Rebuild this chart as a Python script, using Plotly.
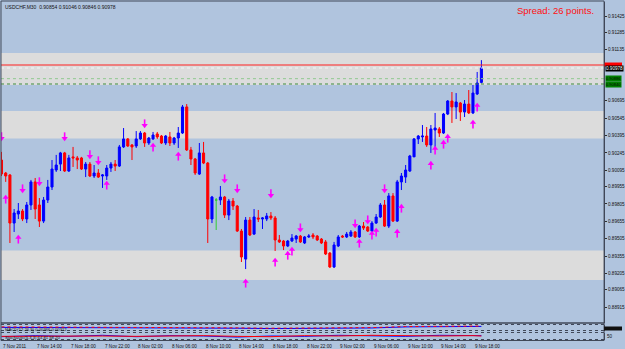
import pandas as pd
import plotly.graph_objects as go

W, H = 625, 349

# ---------------- data ----------------
symbol_title = "USDCHF,M30  0.90854 0.91046 0.90846 0.90978"
spread_text = "Spread: 26 points."
start_time = "2011-11-07 10:00"

opens = [0.90184, 0.90072, 0.90055, 0.89640, 0.89718, 0.89744, 0.89675, 0.89796, 0.89995, 0.89796,
         0.89657, 0.89839, 0.89951, 0.90098, 0.90149, 0.90245, 0.90089, 0.90211, 0.90202, 0.90202,
         0.90106, 0.90149, 0.90046, 0.90072, 0.90046, 0.90046, 0.90115, 0.90149, 0.90132, 0.90297,
         0.90366, 0.90314, 0.90305, 0.90366, 0.90417, 0.90331, 0.90366, 0.90409, 0.90391, 0.90331,
         0.90383, 0.90331, 0.90374, 0.90417, 0.90642, 0.90271, 0.90193, 0.90063, 0.90245, 0.90158,
         0.89675, 0.89839, 0.89839, 0.89865, 0.89709, 0.89830, 0.89787, 0.89571, 0.89329, 0.89666,
         0.89545, 0.89684, 0.89675, 0.89675, 0.89701, 0.89684, 0.89494, 0.89485, 0.89442, 0.89485,
         0.89502, 0.89528, 0.89468, 0.89520, 0.89537, 0.89528, 0.89502, 0.89477, 0.89381, 0.89261,
         0.89442, 0.89528, 0.89520, 0.89528, 0.89563, 0.89520, 0.89614, 0.89606, 0.89571, 0.89640,
         0.89692, 0.89796, 0.89614, 0.89874, 0.89657, 0.89995, 0.90037, 0.90089, 0.90211, 0.90366,
         0.90383, 0.90391, 0.90314, 0.90443, 0.90452, 0.90417, 0.90581, 0.90693, 0.90642, 0.90676,
         0.90598, 0.90667, 0.90590, 0.90754, 0.90854]
highs = [0.90254, 0.90081, 0.90063, 0.89761, 0.89813, 0.89761, 0.89822, 0.90012, 0.90029, 0.89856,
         0.89865, 0.90012, 0.90184, 0.90228, 0.90254, 0.90254, 0.90228, 0.90297, 0.90219, 0.90211,
         0.90167, 0.90167, 0.90141, 0.90106, 0.90063, 0.90141, 0.90167, 0.90184, 0.90314, 0.90460,
         0.90374, 0.90322, 0.90434, 0.90434, 0.90426, 0.90383, 0.90426, 0.90426, 0.90400, 0.90400,
         0.90426, 0.90383, 0.90469, 0.90659, 0.90667, 0.90297, 0.90202, 0.90331, 0.90340, 0.90167,
         0.89874, 0.89856, 0.89960, 0.89874, 0.89848, 0.89856, 0.89796, 0.89589, 0.89692, 0.89692,
         0.89761, 0.89753, 0.89692, 0.89727, 0.89735, 0.89701, 0.89537, 0.89494, 0.89494, 0.89545,
         0.89537, 0.89537, 0.89528, 0.89545, 0.89554, 0.89537, 0.89511, 0.89494, 0.89390, 0.89477,
         0.89537, 0.89537, 0.89563, 0.89580, 0.89571, 0.89623, 0.89649, 0.89614, 0.89657, 0.89718,
         0.89813, 0.89839, 0.89899, 0.89899, 0.90012, 0.90072, 0.90141, 0.90228, 0.90374, 0.90400,
         0.90486, 0.90469, 0.90486, 0.90590, 0.90469, 0.90590, 0.90702, 0.90771, 0.90762, 0.90685,
         0.90702, 0.90788, 0.90832, 0.90944, 0.91046]
lows = [0.90046, 0.89995, 0.89468, 0.89563, 0.89675, 0.89657, 0.89640, 0.89753, 0.89675, 0.89606,
        0.89640, 0.89813, 0.89925, 0.90081, 0.90089, 0.90081, 0.90081, 0.90124, 0.90106, 0.90098,
        0.90037, 0.90037, 0.90029, 0.90029, 0.89943, 0.90012, 0.90081, 0.90089, 0.90124, 0.90288,
        0.90297, 0.90184, 0.90288, 0.90357, 0.90297, 0.90314, 0.90357, 0.90366, 0.90322, 0.90314,
        0.90305, 0.90314, 0.90288, 0.90409, 0.90262, 0.90141, 0.90055, 0.90055, 0.90149, 0.89468,
        0.89640, 0.89580, 0.89796, 0.89684, 0.89666, 0.89753, 0.89563, 0.89304, 0.89243, 0.89528,
        0.89537, 0.89649, 0.89589, 0.89657, 0.89666, 0.89399, 0.89468, 0.89407, 0.89433, 0.89477,
        0.89468, 0.89468, 0.89459, 0.89511, 0.89502, 0.89485, 0.89459, 0.89364, 0.89252, 0.89252,
        0.89433, 0.89511, 0.89511, 0.89520, 0.89511, 0.89511, 0.89580, 0.89563, 0.89563, 0.89632,
        0.89684, 0.89606, 0.89597, 0.89649, 0.89649, 0.89925, 0.89986, 0.90081, 0.90211, 0.90322,
        0.90340, 0.90297, 0.90245, 0.90297, 0.90383, 0.90409, 0.90572, 0.90504, 0.90538, 0.90521,
        0.90555, 0.90581, 0.90581, 0.90745, 0.90846]
closes = [0.90063, 0.90046, 0.89640, 0.89727, 0.89744, 0.89675, 0.89796, 0.89995, 0.89761, 0.89657,
          0.89839, 0.89951, 0.90106, 0.90141, 0.90245, 0.90089, 0.90202, 0.90202, 0.90184, 0.90106,
          0.90149, 0.90046, 0.90072, 0.90037, 0.90055, 0.90115, 0.90149, 0.90132, 0.90297, 0.90366,
          0.90305, 0.90297, 0.90366, 0.90417, 0.90331, 0.90374, 0.90400, 0.90383, 0.90331, 0.90391,
          0.90331, 0.90374, 0.90417, 0.90642, 0.90271, 0.90193, 0.90072, 0.90245, 0.90158, 0.89675,
          0.89865, 0.89839, 0.89865, 0.89709, 0.89830, 0.89787, 0.89571, 0.89347, 0.89666, 0.89537,
          0.89692, 0.89675, 0.89684, 0.89701, 0.89684, 0.89494, 0.89477, 0.89442, 0.89485, 0.89511,
          0.89528, 0.89477, 0.89520, 0.89528, 0.89520, 0.89494, 0.89468, 0.89373, 0.89261, 0.89451,
          0.89520, 0.89520, 0.89545, 0.89563, 0.89520, 0.89614, 0.89597, 0.89571, 0.89640, 0.89692,
          0.89796, 0.89614, 0.89874, 0.89657, 0.89995, 0.90046, 0.90098, 0.90219, 0.90366, 0.90391,
          0.90391, 0.90314, 0.90452, 0.90460, 0.90417, 0.90581, 0.90693, 0.90642, 0.90685, 0.90598,
          0.90667, 0.90590, 0.90762, 0.90849, 0.90978]

# signal arrows: bar index, price
sig_down_bar = [0, 5, 9, 15, 21, 23, 34, 53, 56, 64, 71, 84, 87, 91]
sig_down_px = [0.90383, 0.89934, 0.89995, 0.90383, 0.90228, 0.90176, 0.90495, 0.90020, 0.89934,
               0.89891, 0.89597, 0.89632, 0.89666, 0.89934]
sig_up_bar = [1, 4, 25, 36, 42, 58, 65, 68, 69, 85, 88, 89, 94, 95, 102, 103, 105, 106, 112, 113]
sig_up_px = [0.89848, 0.89503, 0.89969, 0.90297, 0.90219, 0.89123, 0.89304, 0.89364, 0.89399,
             0.89468, 0.89537, 0.89563, 0.89554, 0.89770, 0.90141, 0.90271, 0.90322, 0.90374,
             0.90495, 0.90642]

# zones (price bands)
zone_lo = [0.90831, 0.90370, 0.89149]
zone_hi = [0.91108, 0.90607, 0.89403]

ask_price = 0.91004
bid_price = 0.90978
green_levels = [0.90886, 0.90840]

# right price scale labels
price_ticks = [0.91425, 0.91285, 0.91135, 0.90695, 0.90545, 0.90395, 0.90245, 0.90095,
               0.89955, 0.89805, 0.89655, 0.89505, 0.89355, 0.89205, 0.89065, 0.88915, 0.88775]

# time labels (bar index, text)
time_lbl_bar = [0, 8, 16, 24, 32, 40, 48, 56, 64, 72, 80, 88, 96, 104, 112]
time_lbl_txt = ["7 Nov 2011", "7 Nov 14:00", "7 Nov 18:00", "7 Nov 22:00", "8 Nov 02:00",
                "8 Nov 06:00", "8 Nov 10:00", "8 Nov 14:00", "8 Nov 18:00", "8 Nov 22:00",
                "9 Nov 02:00", "9 Nov 06:00", "9 Nov 10:00", "9 Nov 14:00", "9 Nov 18:00"]

# indicator sub-windows (sampled, normalised 0..1 inside each window)
ind1_title = "MACD(12,26,9) 0.00366 0.00312"
ind2_title = "Stochastic(5,3,3) 64.81 58.20"
ind2_level = "50"
ind_bar = [0, 8, 16, 24, 32, 40, 48, 56, 64, 72, 80, 88, 96, 104, 112, 114]
ind1_blue = [0.52, 0.50, 0.52, 0.52, 0.50, 0.52, 0.50, 0.38, 0.32, 0.33, 0.36, 0.42, 0.60, 0.66, 0.68, 0.68]
ind1_red = [0.60, 0.58, 0.57, 0.59, 0.57, 0.59, 0.57, 0.44, 0.38, 0.38, 0.42, 0.48, 0.66, 0.72, 0.74, 0.74]
ind2_blue = [0.40, 0.55, 0.45, 0.60, 0.40, 0.55, 0.50, 0.35, 0.50, 0.45, 0.60, 0.55, 0.45, 0.60, 0.50, 0.55]
ind2_red = [0.45, 0.50, 0.55, 0.50, 0.45, 0.50, 0.55, 0.45, 0.40, 0.55, 0.50, 0.60, 0.50, 0.50, 0.55, 0.50]

# ---------------- geometry ----------------
X_LEFT, X_RIGHT = 1, 607          # plot area px
BAR0_PX, BAR_STEP = 1.5, 4.23      # px of bar 0, px per bar
MAIN_TOP, MAIN_BOT = 2, 323
SUB1_TOP, SUB1_BOT = 324.5, 330.5
SUB2_TOP, SUB2_BOT = 332.5, 339.5
PRICE_PER_PX = 0.0000863
PRICE_AT_Y0 = 0.91565
SMALL = 4.6
MAGENTA = "#ff00ff"

def px2paper_x(px):
    return px / W

def px2paper_y(py):
    return 1 - py / H

t0 = pd.Timestamp(start_time)
bar = pd.Timedelta(minutes=30)
n = len(opens)
times = [t0 + k * bar for k in range(n)]

x_lo = t0 + bar * ((X_LEFT - BAR0_PX) / BAR_STEP)
x_hi = t0 + bar * ((X_RIGHT - BAR0_PX) / BAR_STEP)
y_hi = PRICE_AT_Y0 - PRICE_PER_PX * MAIN_TOP
y_lo = PRICE_AT_Y0 - PRICE_PER_PX * MAIN_BOT

fig = go.Figure()

BLUE, RED, GREEN = "#0000ff", "#ff0000", "#33cc33"

def sub(lst, idx):
    return [lst[k] for k in idx]

inc = [k for k in range(n) if closes[k] > opens[k]]
dec = [k for k in range(n) if closes[k] < opens[k]]
doj = [k for k in range(n) if closes[k] == opens[k]]

for idx, col in ((inc, BLUE), (dec, RED), (doj, GREEN)):
    if not idx:
        continue
    fig.add_trace(go.Candlestick(
        x=sub(times, idx), open=sub(opens, idx), high=sub(highs, idx),
        low=sub(lows, idx), close=sub(closes, idx),
        increasing=dict(line=dict(color=col, width=1), fillcolor=col),
        decreasing=dict(line=dict(color=col, width=1), fillcolor=col),
        whiskerwidth=0, showlegend=False, hoverinfo="skip"))

# arrows: head (triangle) + stem (short vertical line)
d_head = PRICE_PER_PX * 1.5
d_stem = PRICE_PER_PX * 1.8
for bars, prices, sgn, head in ((sig_up_bar, sig_up_px, 1, "triangle-up"),
                                (sig_down_bar, sig_down_px, -1, "triangle-down")):
    xs = [times[k] for k in bars]
    fig.add_trace(go.Scatter(
        x=xs, y=[p - sgn * d_stem for p in prices], mode="markers",
        marker=dict(symbol="line-ns", size=4, line=dict(color=MAGENTA, width=1.6)),
        showlegend=False, hoverinfo="skip"))
    fig.add_trace(go.Scatter(
        x=xs, y=[p + sgn * d_head for p in prices], mode="markers",
        marker=dict(symbol=head, size=5.5, color=MAGENTA, line=dict(width=0)),
        showlegend=False, hoverinfo="skip"))

ind_t = [times[k] for k in ind_bar]
fig.add_trace(go.Scatter(x=ind_t, y=ind1_blue, yaxis="y2", mode="lines",
                         line=dict(color="#0000ff", width=1), showlegend=False, hoverinfo="skip"))
fig.add_trace(go.Scatter(x=ind_t, y=ind1_red, yaxis="y2", mode="lines",
                         line=dict(color="#ff0000", width=1, dash="dot"), showlegend=False, hoverinfo="skip"))
fig.add_trace(go.Scatter(x=ind_t, y=ind2_blue, yaxis="y3", mode="lines",
                         line=dict(color="#0000ff", width=1), showlegend=False, hoverinfo="skip"))
fig.add_trace(go.Scatter(x=ind_t, y=ind2_red, yaxis="y3", mode="lines",
                         line=dict(color="#ff0000", width=1), showlegend=False, hoverinfo="skip"))

shapes = []
xl, xr = px2paper_x(X_LEFT), px2paper_x(X_RIGHT)
for lo, hi in zip(zone_lo, zone_hi):
    shapes.append(dict(type="rect", xref="paper", yref="y", x0=xl, x1=xr,
                       y0=lo, y1=hi, fillcolor="#dcdcdc", line=dict(width=0), layer="below"))
shapes.append(dict(type="line", xref="paper", yref="y", x0=xl, x1=xr,
                   y0=ask_price, y1=ask_price, line=dict(color="#ff2020", width=1)))
shapes.append(dict(type="line", xref="paper", yref="y", x0=xl, x1=xr,
                   y0=bid_price, y1=bid_price, line=dict(color="#f4f4f4", width=1, dash="dot")))
shapes.append(dict(type="line", xref="paper", yref="y", x0=xl, x1=xr,
                   y0=green_levels[0], y1=green_levels[0], line=dict(color="#8fc88f", width=1, dash="dot")))
shapes.append(dict(type="line", xref="paper", yref="y", x0=xl, x1=xr,
                   y0=green_levels[1], y1=green_levels[1], line=dict(color="#3c8c3c", width=1, dash="dot")))
# red ask tag on the price scale (mostly hidden by the bid tag)
shapes.append(dict(type="rect", xref="paper", yref="y", x0=px2paper_x(X_RIGHT), x1=px2paper_x(625),
                   y0=ask_price - PRICE_PER_PX * 1.5, y1=ask_price + PRICE_PER_PX * 2.5,
                   fillcolor="#ff0000", line=dict(width=0)))
# window frames
frame_col = "#404858"
shapes.append(dict(type="rect", xref="paper", yref="paper", x0=xl, x1=xr,
                   y0=px2paper_y(340.5), y1=px2paper_y(1), line=dict(color=frame_col, width=1)))
shapes.append(dict(type="line", xref="paper", yref="paper", x0=xl, x1=xr,
                   y0=px2paper_y(MAIN_BOT), y1=px2paper_y(MAIN_BOT), line=dict(color=frame_col, width=1.5)))
for yy in (SUB1_TOP, SUB1_BOT, SUB2_TOP, SUB2_BOT):
    shapes.append(dict(type="line", xref="paper", yref="paper", x0=xl, x1=xr,
                       y0=px2paper_y(yy), y1=px2paper_y(yy), line=dict(color=frame_col, width=1, dash="dot")))
shapes.append(dict(type="rect", xref="paper", yref="paper", x0=px2paper_x(X_RIGHT), x1=px2paper_x(625),
                   y0=px2paper_y(330.5), y1=px2paper_y(326.5), fillcolor="#101010", line=dict(width=0)))

annotations = [
    dict(text=symbol_title, xref="paper", yref="paper", x=px2paper_x(3), y=px2paper_y(2),
         xanchor="left", yanchor="top", showarrow=False,
         font=dict(family="Liberation Sans", size=5, color="#101010")),
    dict(text=spread_text, xref="paper", yref="paper", x=px2paper_x(599), y=px2paper_y(3.5),
         xanchor="right", yanchor="top", showarrow=False,
         font=dict(family="Liberation Sans", size=9.5, color="#ff1010")),
    dict(text=f"{bid_price:.5f}", xref="paper", yref="y", x=px2paper_x(608), y=bid_price,
         xanchor="left", yanchor="middle", showarrow=False, bgcolor="#000000",
         font=dict(family="Liberation Sans", size=SMALL, color="#ffffff"), borderpad=0),
    dict(text=ind1_title, xref="paper", yref="paper", x=px2paper_x(3), y=px2paper_y(SUB1_TOP),
         xanchor="left", yanchor="top", showarrow=False,
         font=dict(family="Liberation Sans", size=4.2, color="#101010")),
    dict(text=ind2_title, xref="paper", yref="paper", x=px2paper_x(3), y=px2paper_y(SUB2_TOP),
         xanchor="left", yanchor="top", showarrow=False,
         font=dict(family="Liberation Sans", size=4.2, color="#101010")),
    dict(text=ind2_level, xref="paper", yref="paper", x=px2paper_x(608), y=px2paper_y(336),
         xanchor="left", yanchor="middle", showarrow=False,
         font=dict(family="Liberation Sans", size=SMALL, color="#101010")),
]
green_y_px = [78.5, 83.5]
for lv in green_levels:
    annotations.append(dict(text=f"{lv:.5f}", xref="paper", yref="y", x=px2paper_x(608), y=lv,
                            xanchor="left", yanchor="middle", showarrow=False, bgcolor="#008000",
                            font=dict(family="Liberation Sans", size=SMALL - 0.6, color="#000000"),
                            borderpad=0))
for b, t in zip(time_lbl_bar, time_lbl_txt):
    annotations.append(dict(text=t, xref="x", yref="paper", x=times[b], y=px2paper_y(341.5),
                            xanchor="left", yanchor="top", showarrow=False,
                            font=dict(family="Liberation Sans", size=SMALL, color="#101010")))

fig.update_layout(
    width=W, height=H, margin=dict(l=0, r=0, t=0, b=0),
    paper_bgcolor="#b0c4de", plot_bgcolor="#b0c4de",
    showlegend=False, shapes=shapes, annotations=annotations,
    xaxis=dict(domain=[xl, xr], range=[x_lo, x_hi],
               anchor="y3", showgrid=False, zeroline=False, showticklabels=False,
               rangeslider=dict(visible=False), showline=False, ticks=""),
    yaxis=dict(domain=[px2paper_y(MAIN_BOT), px2paper_y(MAIN_TOP)], range=[y_lo, y_hi],
               side="right", anchor="x", showgrid=False, zeroline=False,
               tickvals=price_ticks, ticktext=[f"{v:.5f}" for v in price_ticks],
               ticks="outside", ticklen=2, tickcolor="#303030",
               tickfont=dict(family="Liberation Sans", size=SMALL, color="#101010"),
               showline=True, linecolor="#404858", linewidth=1),
    yaxis2=dict(domain=[px2paper_y(SUB1_BOT), px2paper_y(SUB1_TOP)], range=[0, 1], anchor="x",
                side="right", showgrid=False, zeroline=False, showticklabels=False,
                showline=True, linecolor="#404858"),
    yaxis3=dict(domain=[px2paper_y(SUB2_BOT), px2paper_y(SUB2_TOP)], range=[0, 1], anchor="x",
                side="right", showgrid=False, zeroline=False, showticklabels=False,
                showline=True, linecolor="#404858"),
)

fig.write_html("out.html")
